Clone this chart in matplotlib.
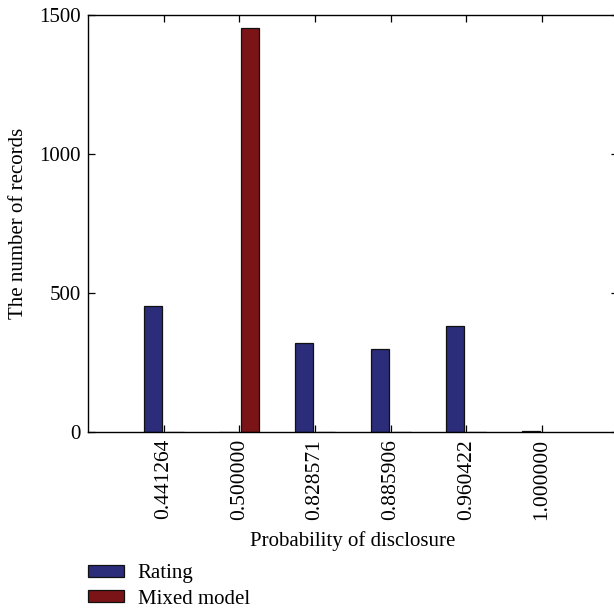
import matplotlib
matplotlib.use("Agg")
import matplotlib.pyplot as plt
import numpy as np

# Values
categories = ["0.441264", "0.500000", "0.828571", "0.885906", "0.960422", "1.000000"]
rating = [452, 0, 321, 297, 381, 5]
mixed_model = [0, 1453, 0, 0, 0, np.nan]

plt.rcParams['font.family'] = ['Liberation Serif', 'DejaVu Serif']

fig = plt.figure(figsize=(6.14, 6.12), dpi=100)
ax = fig.add_axes([0.1433, 0.2941, 0.8626, 0.6814])

x = np.arange(1, len(categories) + 1)
w = 0.24
off = 0.145
ax.bar(x - off, rating, w, color='#2b2c7a', edgecolor='#111111', linewidth=0.9, label='Rating')
ax.bar(x + off, mixed_model, w, color='#7b1416', edgecolor='#111111', linewidth=0.9, label='Mixed model')

ax.set_xlim(0, 7)
ax.set_ylim(0, 1500)
ax.set_xticks(x)
ax.set_xticklabels(categories, rotation=90, fontsize=15.5)
ax.set_yticks([0, 500, 1000, 1500])
ax.tick_params(axis='y', labelsize=15)
ax.tick_params(direction='in', top=True, right=True, length=5, width=0.9, pad=5)

for s in ax.spines.values():
    s.set_linewidth(1.0)

ax.set_xlabel("Probability of disclosure", fontsize=15, labelpad=8)
ax.set_ylabel("The number of records", fontsize=15, labelpad=8)

fig.legend(loc='upper left', bbox_to_anchor=(0.143, 0.078), frameon=False,
           fontsize=15, handlelength=1.75, handleheight=0.5, handletextpad=0.65,
           labelspacing=0.3, borderpad=0, borderaxespad=0)

fig.savefig("out.png", dpi=100)
